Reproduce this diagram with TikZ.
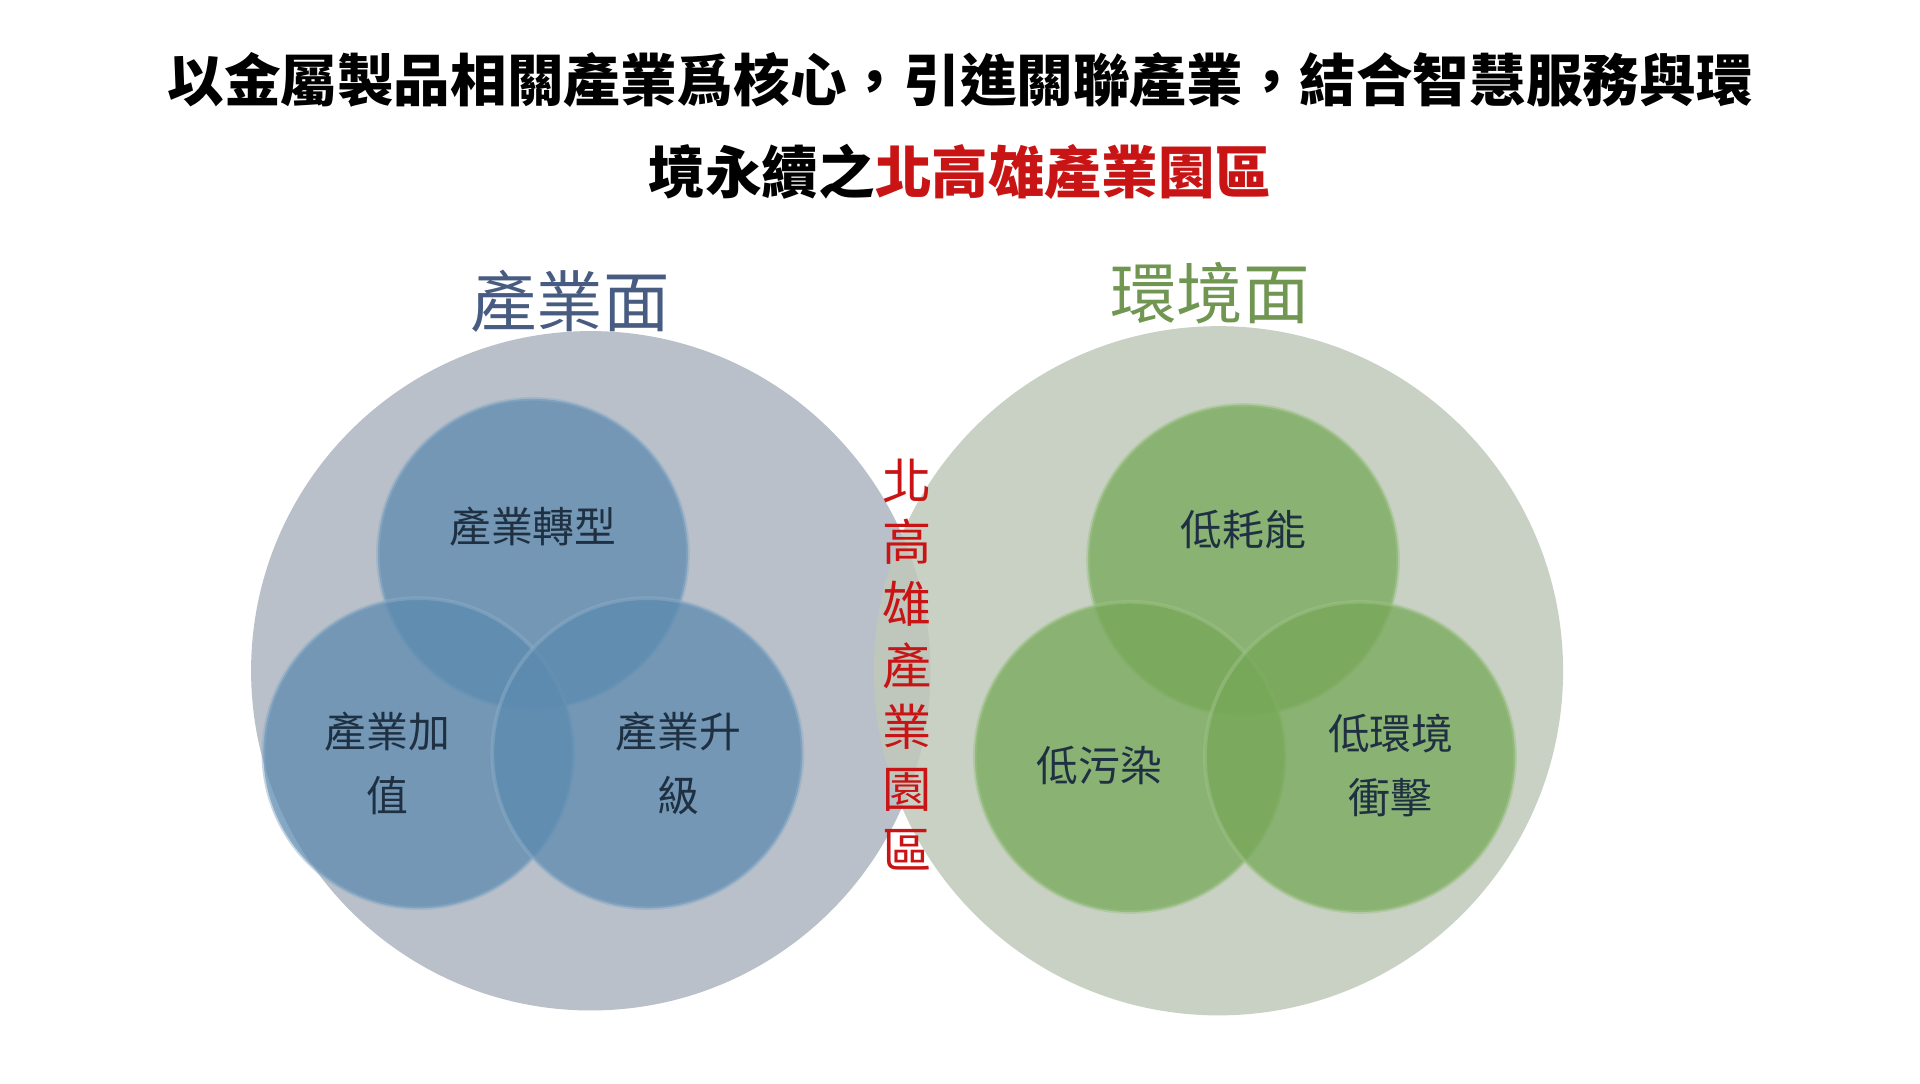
\documentclass[tikz,border=0pt]{standalone}
\usepackage{fontspec}
\setmainfont{Noto Sans CJK TC}
\usetikzlibrary{positioning}
\definecolor{bigblue}{RGB}{186,192,201}
\definecolor{biggreen}{RGB}{192,201,186}
\definecolor{smallblue}{RGB}{92,138,175}
\definecolor{smallgreen}{RGB}{118,168,88}
\definecolor{headblue}{RGB}{72,92,130}
\definecolor{headgreen}{RGB}{112,150,82}
\definecolor{parkred}{RGB}{200,20,20}
\definecolor{innertext}{RGB}{30,48,66}
\tikzset{
  bigcirc/.style={circle,inner sep=0pt,minimum size=#1},
  smallcirc/.style={circle,inner sep=0pt,minimum size=252pt,fill opacity=0.75,text opacity=1,draw opacity=0.5,line width=3pt},
  intext/.style={text=innertext,font=\fontsize{34}{44}\selectfont,align=center}
}
\begin{document}
\begin{tikzpicture}[x=1pt,y=1pt,yscale=-1]
  \fill[white] (0,0) rectangle (1560,880);
  \useasboundingbox (0,0) rectangle (1560,880);

  % title
  \node[font=\fontsize{46}{54}\selectfont\bfseries] (title1) at (780,65) {以金屬製品相關產業爲核心，引進關聯產業，結合智慧服務與環};
  \node[font=\fontsize{46}{54}\selectfont\bfseries] (title2) at (780,140) {境永續之\textcolor{parkred}{北高雄產業園區}};

  % big circles
  \node[bigcirc=552pt,fill=bigblue] (ind) at (480,545) {};
  \node[bigcirc=560pt,fill=biggreen,fill opacity=0.85] (env) at (990,545) {};

  \node[text=headblue,font=\fontsize{54}{60}\selectfont] (indhead) at (463,245) {產業面};
  \node[text=headgreen,font=\fontsize{54}{60}\selectfont] (envhead) at (983,238) {環境面};

  % industry circles
  \node[smallcirc,fill=smallblue,draw=smallblue!70!white] (trans) at (433,450) {};
  \node[smallcirc,fill=smallblue,draw=smallblue!70!white] (addv) at (340,612) {};
  \node[smallcirc,fill=smallblue,draw=smallblue!70!white] (upg) at (526,612) {};
  \node[intext] at (433,428) {產業轉型};
  \node[intext] at (315,620) {產業加\\[8pt]值};
  \node[intext] at (551,620) {產業升\\[8pt]級};

  % environment circles
  \node[smallcirc,fill=smallgreen,draw=smallgreen!70!white] (lowe) at (1010,455) {};
  \node[smallcirc,fill=smallgreen,draw=smallgreen!70!white] (lowp) at (918,615) {};
  \node[smallcirc,fill=smallgreen,draw=smallgreen!70!white] (lowi) at (1105,615) {};
  \node[intext] at (1010,430) {低耗能};
  \node[intext] at (893,622) {低污染};
  \node[intext] at (1130,622) {低環境\\[8pt]衝擊};

  % park
  \node[text=parkred,font=\fontsize{40}{50}\selectfont,align=center] (park) at (737,540) {北\\高\\雄\\產\\業\\園\\區};
\end{tikzpicture}
\end{document}
